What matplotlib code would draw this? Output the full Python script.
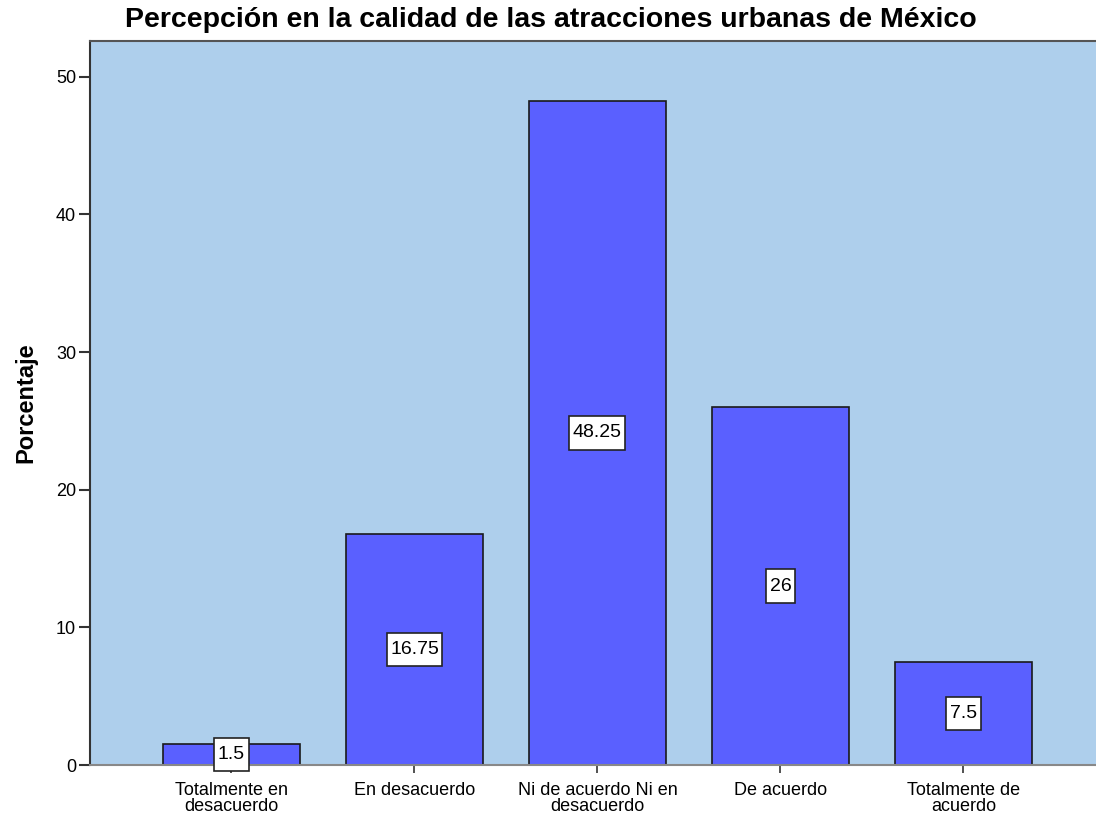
import numpy as np
import matplotlib
matplotlib.use('Agg')
import matplotlib.pyplot as plt
from matplotlib.path import Path

plt.rcParams['font.family'] = ['Liberation Sans', 'DejaVu Sans']

# Data: response categories and percentages
categories = ['Totalmente en\ndesacuerdo', 'En desacuerdo', 'Ni de acuerdo Ni en\ndesacuerdo',
              'De acuerdo', 'Totalmente de\nacuerdo']
percentages = [1.5, 16.75, 48.25, 26, 7.5]
value_labels = ['1.5', '16.75', '48.25', '26', '7.5']
y_ticks = [0, 10, 20, 30, 40, 50]


# label box: narrow side padding, taller top/bottom padding
def label_box(x0, y0, width, height, mutation_size):
    px = 0.18 * mutation_size
    py = 0.42 * mutation_size
    x0, x1 = x0 - px, x0 + width + px
    y0, y1 = y0 - py, y0 + height + py
    return Path([(x0, y0), (x1, y0), (x1, y1), (x0, y1), (x0, y0)], closed=True)


fig = plt.figure(figsize=(10.96, 8.19), dpi=100)
ax = fig.add_axes([0.0821, 0.0659, 0.9179, 0.884])
ax.set_facecolor('#AECFEC')

x = np.arange(len(categories))
ax.bar(x, percentages, width=0.75, color='#5A60FF', edgecolor='#1a1a1a', linewidth=1.2, zorder=2)

# Value boxes at half height of each bar
for xi, val, lab in zip(x, percentages, value_labels):
    ax.text(xi, val / 2, lab, ha='center', va='center', fontsize=14, zorder=4,
            bbox=dict(facecolor='white', edgecolor='#222222', linewidth=1.2, boxstyle=label_box),
            clip_on=False)

ax.set_xlim(-0.773, 4.724)
ax.set_ylim(0, 52.6)
ax.set_xticks(x)
ax.set_xticklabels(categories, fontsize=13, linespacing=0.95)
ax.set_yticks(y_ticks)
ax.tick_params(axis='y', labelsize=13, length=8, width=1.5, color='#333333', pad=2)
ax.tick_params(axis='x', length=6, width=1.2, color='#333333', pad=6)

ax.spines['left'].set_color('#333333')
ax.spines['left'].set_linewidth(1.5)
ax.spines['top'].set_color('#555555')
ax.spines['top'].set_linewidth(1.5)
ax.spines['bottom'].set_color('#888888')
ax.spines['bottom'].set_linewidth(1.5)
ax.spines['right'].set_visible(False)

ax.set_ylabel('Porcentaje', fontsize=17, fontweight='bold')
ax.yaxis.set_label_coords(-0.052, 0.5)
fig.text(0.503, 0.975, 'Percepción en la calidad de las atracciones urbanas de México',
         ha='center', va='center', fontsize=20.5, fontweight='bold')

fig.savefig('out.png', dpi=100)
